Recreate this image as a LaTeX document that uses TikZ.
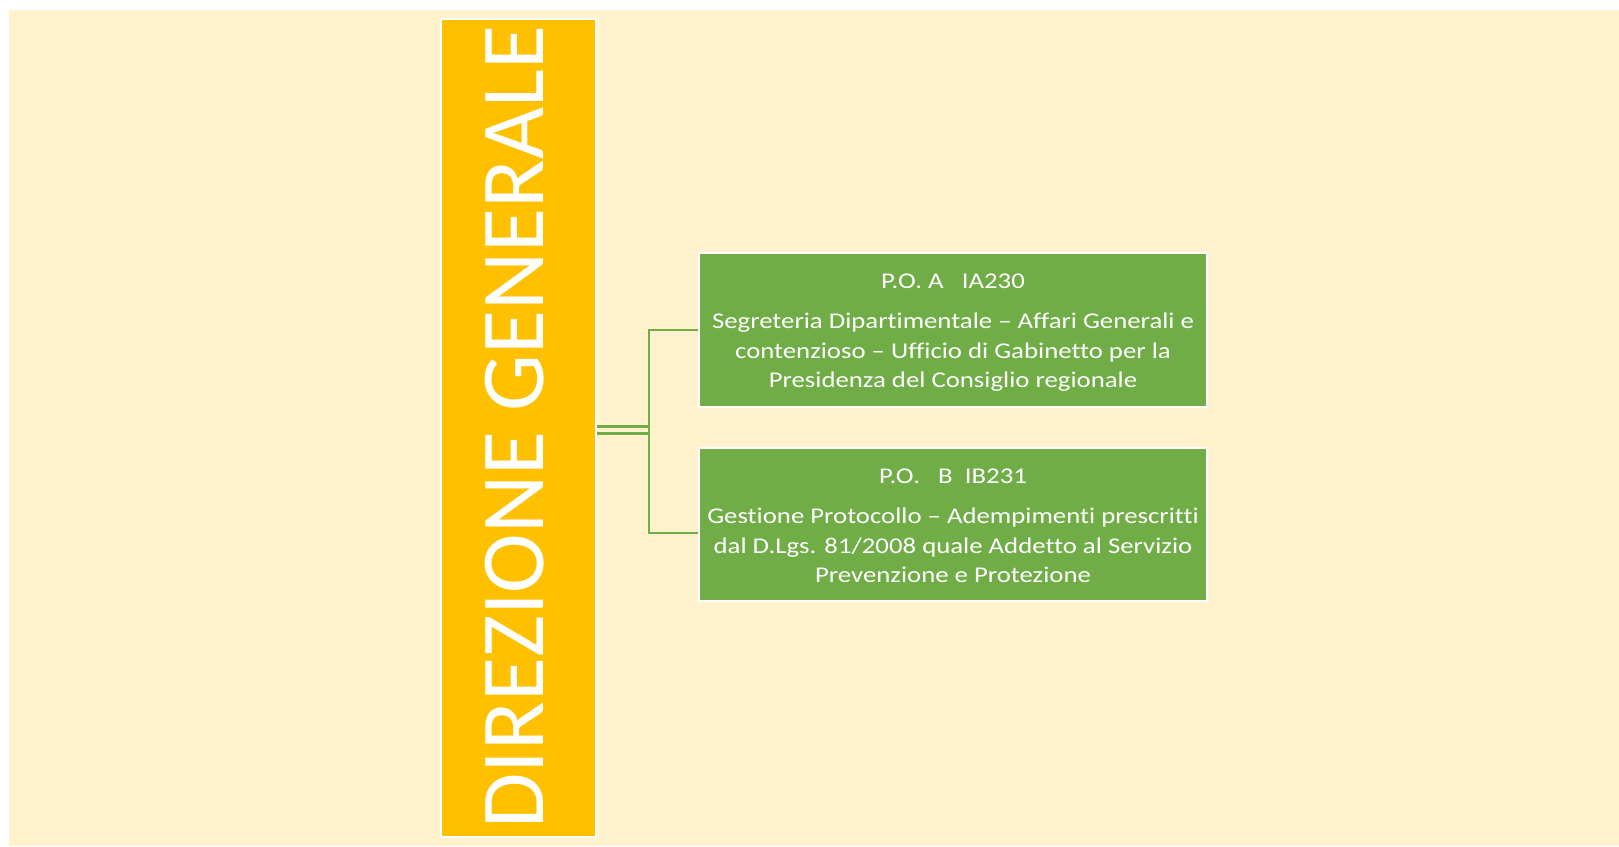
\documentclass[tikz,border=0pt]{standalone}
\usepackage{fontspec}
\setmainfont{Carlito}
\newfontfamily\boxfont[FakeStretch=1.19,Ligatures=NoCommon]{Carlito}
\definecolor{cream}{HTML}{FFF2CC}
\definecolor{gold}{HTML}{FFC000}
\definecolor{leaf}{HTML}{70AD47}
\begin{document}
\begin{tikzpicture}[x=1pt,y=-1pt,
  dgbox/.style={draw=white, line width=2pt, fill=gold, inner sep=0pt, minimum width=155pt, minimum height=818pt},
  pobox/.style={draw=white, line width=2pt, fill=leaf, inner sep=0pt, minimum width=508pt, minimum height=154pt,
    text=white, align=center, font=\boxfont\fontsize{22.5}{29.5}\selectfont},
  link/.style={draw=leaf, line width=2.8pt}]
\useasboundingbox (0,0) rectangle (1619,846);
\fill[white] (0,0) rectangle (1619,846);
\fill[cream] (9,10) rectangle (1619,846);
\node[dgbox] (dg) at (518,427.5) {};
\node[rotate=90, text=white, inner sep=0pt, font=\fontsize{90}{90}\selectfont] (dgt) at (515,427) {DIREZIONE GENERALE};
\node[pobox] (a) at (953,330) {\rule{0pt}{20pt}P.O. A\ \ \ IA230\\[10.8pt]Segreteria Dipartimentale – Affari Generali e\\contenzioso – Ufficio di Gabinetto per la\\Presidenza del Consiglio regionale};
\node[pobox, minimum height=153pt] (b) at (953,524.5) {\rule{0pt}{17pt}P.O.\ \ \ B\ \ IB231\\[10.8pt]Gestione Protocollo – Adempimenti prescritti\\dal D.Lgs. 81/2008 quale Addetto al Servizio\\Prevenzione e Protezione};
\coordinate (s1) at (dg.east |- 0,426.4);
\coordinate (s2) at (dg.east |- 0,433.6);
\coordinate (j1) at (649,426.4);
\coordinate (j2) at (649,433.6);
\coordinate (ta) at (649,330);
\coordinate (tb) at (649,533);
\draw[link] (s1) -- (j1);
\draw[link] (s2) -- (j2);
\draw[link] (a.west |- ta) -- (ta) -- (tb) -- (b.west |- tb);
\end{tikzpicture}
\end{document}
